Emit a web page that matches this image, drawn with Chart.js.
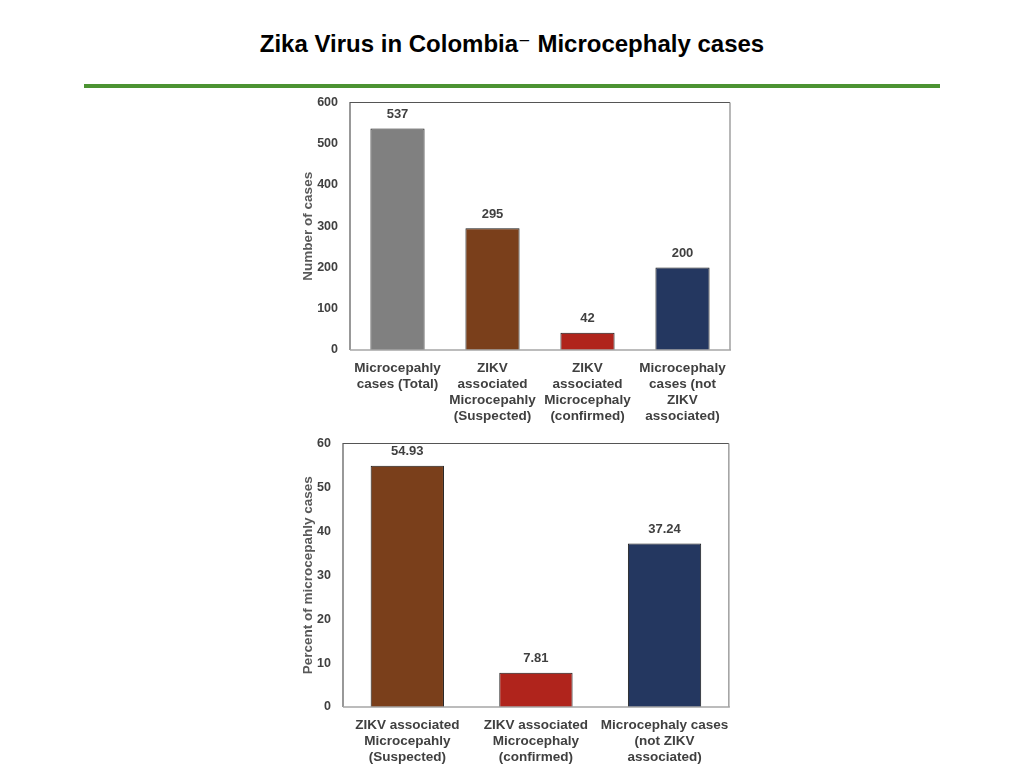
<!DOCTYPE html>
<html>
<head>
<meta charset="utf-8">
<script src="https://cdn.jsdelivr.net/npm/chart.js@4.4.0/dist/chart.umd.min.js"></script>
<style>
  html, body { margin: 0; padding: 0; background: #fff; }
  body { width: 1024px; height: 768px; position: relative; overflow: hidden; font-family: "Liberation Sans", Arial, sans-serif; }
  #title { position: absolute; left: 0; width: 1024px; top: 29px; text-align: center; font-weight: bold; font-size: 24px; color: #000; line-height: 30px; }
  #rule { position: absolute; left: 84px; width: 856px; top: 84px; height: 4px; background: #4c9332; }
  .box { position: absolute; }
</style>
</head>
<body>
<div id="title">Zika Virus in Colombia<span style="font-family:'DejaVu Sans';font-weight:normal">⁻</span> Microcephaly cases</div>
<div id="rule"></div>
<div class="box" style="left:290px;top:83px;width:450px;height:347px;"><canvas id="c1"></canvas></div>
<div class="box" style="left:290px;top:424px;width:450px;height:341px;"><canvas id="c2"></canvas></div>
<script>
// ---- data ----
const countCategories = [
  ["Microcepahly", "cases (Total)"],
  ["ZIKV", "associated", "Microcepahly", "(Suspected)"],
  ["ZIKV", "associated", "Microcephaly", "(confirmed)"],
  ["Microcephaly", "cases (not", "ZIKV", "associated)"]
];
const countValues = [537, 295, 42, 200];
const countColors = ["#808080", "#7a3f1b", "#b0241c", "#243760"];
const countAxisTitle = "Number of cases";

const percentCategories = [
  ["ZIKV associated", "Microcepahly", "(Suspected)"],
  ["ZIKV associated", "Microcephaly", "(confirmed)"],
  ["Microcephaly cases", "(not ZIKV", "associated)"]
];
const percentValues = [54.93, 7.81, 37.24];
const percentLabels = ["54.93", "7.81", "37.24"];
const percentColors = ["#7a3f1b", "#b0241c", "#243760"];
const percentAxisTitle = "Percent of microcepahly cases";

const FONT = "'Liberation Sans', Arial, sans-serif";
const TEXT = "#404040";

const frame = {
  id: "frame",
  afterDraw(chart) {
    const a = chart.chartArea, ctx = chart.ctx;
    ctx.save();
    ctx.lineWidth = 1.2;
    ctx.strokeStyle = "#555";
    ctx.beginPath();
    ctx.moveTo(a.left, a.bottom); ctx.lineTo(a.left, a.top); ctx.lineTo(a.right, a.top);
    ctx.stroke();
    ctx.strokeStyle = "#888";
    ctx.beginPath();
    ctx.moveTo(a.right, a.top); ctx.lineTo(a.right, a.bottom);
    ctx.stroke();
    ctx.strokeStyle = "#a6a6a6";
    ctx.lineWidth = 1.5;
    ctx.beginPath();
    ctx.moveTo(a.left, a.bottom); ctx.lineTo(a.right + 1, a.bottom);
    ctx.stroke();
    ctx.restore();
  }
};

const valueLabels = {
  id: "valueLabels",
  afterDatasetsDraw(chart, args, opts) {
    const ctx = chart.ctx;
    const meta = chart.getDatasetMeta(0);
    ctx.save();
    ctx.font = "bold 13px " + FONT;
    ctx.fillStyle = TEXT;
    ctx.textAlign = "center";
    ctx.textBaseline = "middle";
    meta.data.forEach((bar, i) => {
      const txt = opts.labels ? opts.labels[i] : String(chart.data.datasets[0].data[i]);
      ctx.fillText(txt, bar.x, bar.y - 14);
    });
    ctx.restore();
  }
};

function makeChart(id, cats, vals, colors, labels, max, step, yTitle, yWidth, xHeight, pad) {
  return new Chart(document.getElementById(id), {
    type: "bar",
    data: {
      labels: cats,
      datasets: [{
        data: vals,
        backgroundColor: colors,
        borderColor: "#1a1a1a",
        borderWidth: 1,
        barPercentage: 0.57,
        categoryPercentage: 1.0
      }]
    },
    options: {
      responsive: true,
      maintainAspectRatio: false,
      animation: false,
      events: [],
      layout: { padding: pad },
      plugins: {
        legend: { display: false },
        tooltip: { enabled: false },
        valueLabels: { labels: labels }
      },
      scales: {
        x: {
          grid: { display: false, drawTicks: false },
          border: { display: false },
          ticks: { color: TEXT, font: { family: FONT, size: 13.5, weight: "bold" }, padding: 10, maxRotation: 0, autoSkip: false },
          afterFit(s) { s.height = xHeight; }
        },
        y: {
          min: 0, max: max,
          grid: { display: false, drawTicks: false },
          border: { display: false },
          ticks: { stepSize: step, color: TEXT, font: { family: FONT, size: 12.5, weight: "bold" }, padding: 12 },
          title: { display: true, text: yTitle, color: "#595959", font: { family: FONT, size: 13.5, weight: "bold" }, padding: { top: 0, bottom: 0 } },
          afterFit(s) { s.width = yWidth; }
        }
      }
    },
    plugins: [frame, valueLabels]
  });
}

makeChart("c1", countCategories, countValues, countColors, null, 600, 100, countAxisTitle, 50, 80, { top: 8, right: 10, left: 10, bottom: 0 });
makeChart("c2", percentCategories, percentValues, percentColors, percentLabels, 60, 10, percentAxisTitle, 43, 58, { top: 9, right: 10, left: 10, bottom: 0 });
</script>
</body>
</html>
